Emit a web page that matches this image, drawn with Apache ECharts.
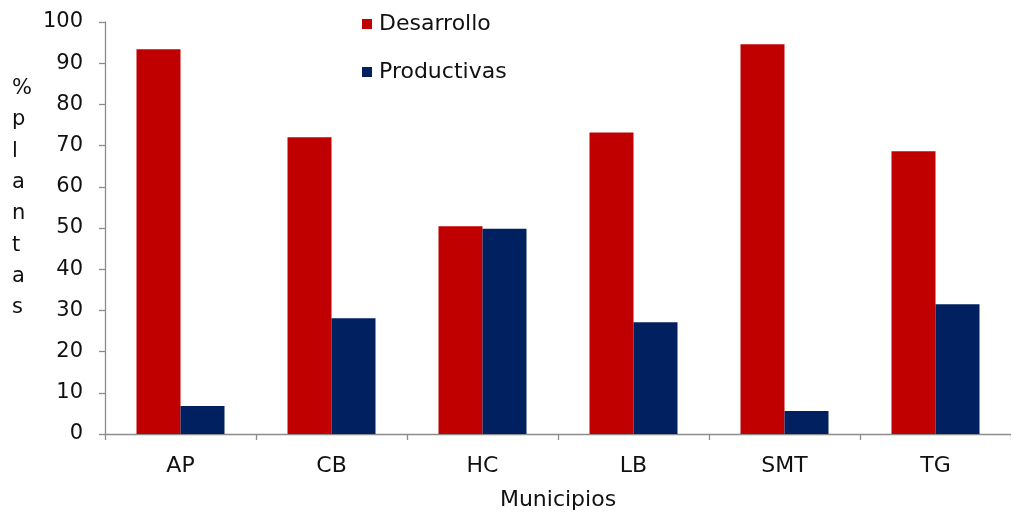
<!DOCTYPE html>
<html>
<head>
<meta charset="utf-8">
<script src="https://cdn.jsdelivr.net/npm/echarts@6/dist/echarts.min.js"></script>
<style>
  html, body { margin: 0; padding: 0; background: #ffffff; }
  #chart { width: 1011px; height: 516px; }
</style>
</head>
<body>
<div id="chart"></div>
<script>
// Municipalities on the category axis
const categories = ['AP', 'CB', 'HC', 'LB', 'SMT', 'TG'];
// Percentage of plants per stage
const desarrollo = [93.4, 72.0, 50.4, 73.2, 94.6, 68.6];
const productivas = [6.8, 28.1, 49.8, 27.1, 5.6, 31.5];
const yTicks = [0, 10, 20, 30, 40, 50, 60, 70, 80, 90, 100];
const yTitle = '% plantas';
const xTitle = 'Municipios';

const FONT = 'DejaVu Sans';
const TEXT = '#111111';
const AXIS = '#8c8c8c';

const chart = echarts.init(document.getElementById('chart'), null, { renderer: 'canvas' });

chart.setOption({
  backgroundColor: '#ffffff',
  animation: false,
  textStyle: { fontFamily: FONT, color: TEXT },
  legend: {
    orient: 'vertical',
    left: 357,
    top: 8,
    itemWidth: 10,
    itemHeight: 10,
    itemGap: 26,
    icon: 'rect',
    textStyle: { fontFamily: FONT, fontSize: 22, color: TEXT, padding: [0, 0, 0, 2] },
    data: ['Desarrollo', 'Productivas']
  },
  grid: { left: 105, top: 22, width: 908, height: 413 },
  xAxis: {
    type: 'category',
    data: categories,
    name: xTitle,
    nameLocation: 'middle',
    nameGap: 55,
    nameTextStyle: { fontFamily: FONT, fontSize: 22, color: TEXT },
    axisLine: { lineStyle: { color: AXIS, width: 1.3 } },
    axisTick: { show: true, alignWithLabel: false, length: 6, lineStyle: { color: AXIS, width: 1.3 } },
    axisLabel: { fontFamily: FONT, fontSize: 22, color: TEXT, margin: 21 }
  },
  yAxis: {
    type: 'value',
    min: yTicks[0],
    max: yTicks[yTicks.length - 1],
    interval: yTicks[1] - yTicks[0],
    axisLine: { show: true, lineStyle: { color: AXIS, width: 1.3 } },
    axisTick: { show: true, length: 6, lineStyle: { color: AXIS, width: 1.3 } },
    splitLine: { show: false },
    axisLabel: { fontFamily: FONT, fontSize: 21, color: TEXT, margin: 22 }
  },
  graphic: [{
    type: 'text',
    left: 12,
    top: 73,
    style: {
      text: yTitle.replace(/ /g, '').split('').join('\n'),
      fontFamily: FONT,
      fontSize: 21,
      lineHeight: 31.3,
      fill: TEXT,
      align: 'center'
    }
  }],
  series: [
    {
      name: 'Desarrollo',
      type: 'bar',
      data: desarrollo,
      barWidth: 44,
      barGap: '0%',
      itemStyle: { color: '#c00000' }
    },
    {
      name: 'Productivas',
      type: 'bar',
      data: productivas,
      barWidth: 44,
      barGap: '0%',
      itemStyle: { color: '#002060' }
    }
  ]
});
</script>
</body>
</html>
